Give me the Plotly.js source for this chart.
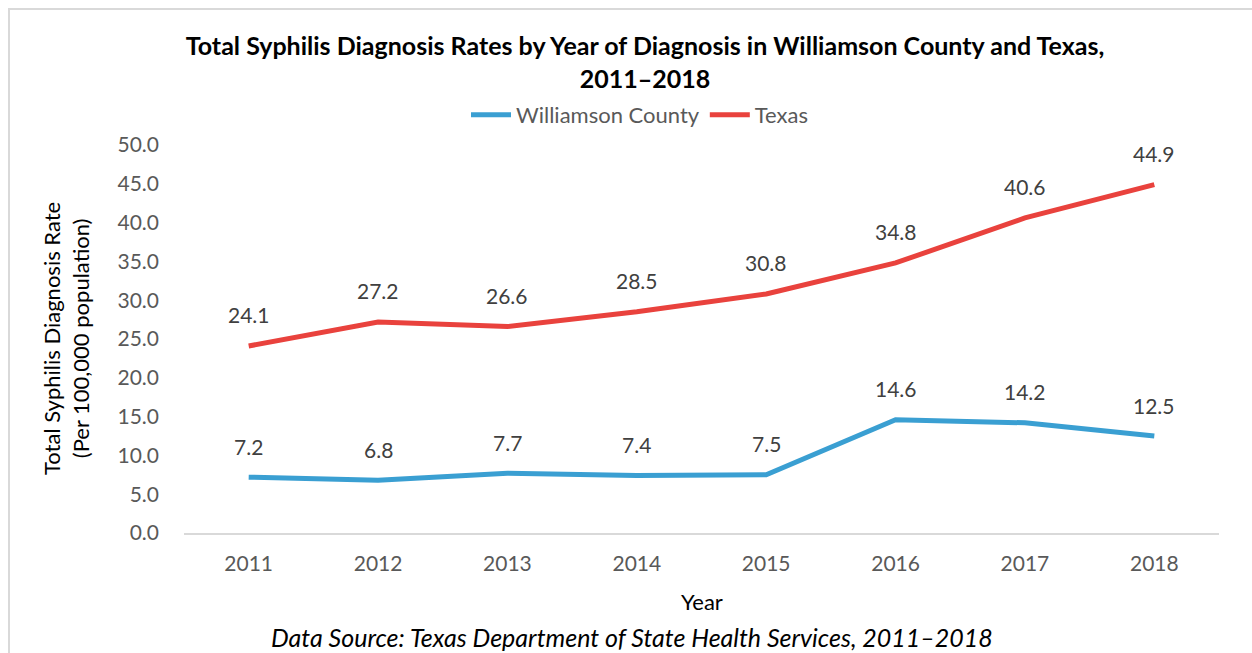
<!DOCTYPE html>
<html><head><meta charset="utf-8">
<script src="https://cdn.plot.ly/plotly-3.0.1.min.js"></script>
<style>
html,body{margin:0;padding:0;background:#fff;}
#wrap{position:relative;width:1252px;height:653px;overflow:hidden;}
#chart{width:1252px;height:653px;}
#frame{position:absolute;left:8px;top:8px;width:1300px;height:700px;border-top:2px solid #d9d9d9;border-left:2px solid #d9d9d9;pointer-events:none;}
</style></head>
<body><div id="wrap"><div id="chart"></div><div id="frame"></div></div>
<script>
const years = ['2011','2012','2013','2014','2015','2016','2017','2018'];
const williamson = [7.2, 6.8, 7.7, 7.4, 7.5, 14.6, 14.2, 12.5];
const texas = [24.1, 27.2, 26.6, 28.5, 30.8, 34.8, 40.6, 44.9];
const seriesNames = ['Williamson County', 'Texas'];
const colors = ['#3A9FD2', '#E9423D'];
const FONT = 'Lato, "Open Sans", sans-serif';

const traces = [williamson, texas].map((vals, i) => ({
  x: years, y: vals, type: 'scatter', mode: 'lines', name: seriesNames[i],
  line: {color: colors[i], width: 5}, hoverinfo: 'x+y'
}));

const annotations = [];
[williamson, texas].forEach(vals => {
  vals.forEach((v, j) => annotations.push({
    x: j, y: v, xref: 'x', yref: 'y', text: v.toFixed(1), showarrow: false,
    yshift: 31, font: {family: FONT, size: 21, color: '#404040'}
  }));
});
annotations.push({
  xref: 'paper', yref: 'paper', x: 0, y: 0.5, xshift: -118, textangle: -90,
  text: 'Total Syphilis Diagnosis Rate<br>(Per 100,000 population)', showarrow: false,
  font: {family: FONT, size: 22, color: '#000'}, xanchor: 'center', yanchor: 'middle'
});
annotations.push({
  xref: 'paper', yref: 'paper', x: 0.5, y: 0, yshift: -68, text: 'Year', showarrow: false,
  font: {family: FONT, size: 22, color: '#000'}, yanchor: 'middle'
});
annotations.push({
  xref: 'paper', yref: 'paper', x: (632 - 184) / 1035, y: 0, yshift: -104,
  text: '<i>Data Source: Texas Department of State Health Services, 2011–2018</i>', showarrow: false,
  font: {family: FONT, size: 25, color: '#000'}, xanchor: 'center', yanchor: 'middle'
});

const layout = {
  width: 1252, height: 653,
  margin: {l: 184, r: 33, t: 145, b: 120},
  paper_bgcolor: '#fff', plot_bgcolor: '#fff',
  font: {family: FONT, color: '#595959'},
  title: {
    text: '<b>Total Syphilis Diagnosis Rates by Year of Diagnosis in Williamson County and Texas,<br>2011–2018</b>',
    x: 645/1252, xanchor: 'center', xref: 'container', yref: 'container', y: 1 - 55/653, yanchor: 'middle',
    font: {family: FONT, size: 25, color: '#000'}
  },
  showlegend: true,
  legend: {
    orientation: 'h', xref: 'container', yref: 'container', x: 640/1252, xanchor: 'center',
    y: 1 - 115/653, yanchor: 'middle', font: {family: FONT, size: 22, color: '#595959'},
    itemwidth: 40
  },
  xaxis: {
    type: 'category', range: [-0.5, 7.5], showgrid: false, zeroline: false,
    showline: true, linecolor: '#d9d9d9', linewidth: 1.5, ticks: '',
    tickfont: {family: FONT, size: 21, color: '#595959'}, ticklabelstandoff: 11
  },
  yaxis: {
    range: [0, 50], dtick: 5, tick0: 0, tickformat: '.1f', showgrid: false, zeroline: false,
    showline: false, ticks: '', tickfont: {family: FONT, size: 21, color: '#595959'},
    ticklabelstandoff: 24
  },
  annotations: annotations
};

Plotly.newPlot('chart', traces, layout, {displayModeBar: false, staticPlot: true});
</script></body></html>
